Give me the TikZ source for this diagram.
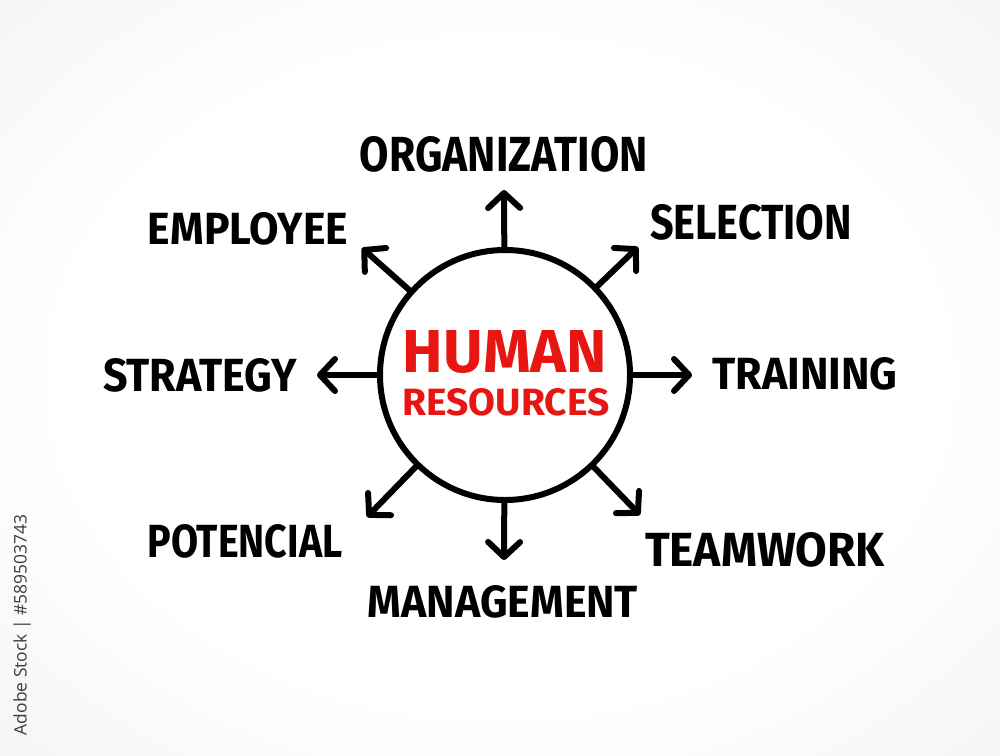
\documentclass[tikz,border=0pt]{standalone}
\usepackage{fontspec}
\usepackage{graphicx}
\usetikzlibrary{arrows.meta}
\newfontfamily\handfont{Fira Sans}
\newfontfamily\wmfont{Open Sans}
\definecolor{bggray}{RGB}{218,218,218}
\definecolor{hrred}{RGB}{232,22,18}
\definecolor{wmgray}{RGB}{60,60,60}
\pgfdeclareradialshading{bgshade}{\pgfpoint{0bp}{0bp}}{color(0bp)=(white); color(22bp)=(white); color(72bp)=(bggray)}
\newcommand{\lbl}[3]{\resizebox{#1pt}{#2pt}{\handfont\bfseries #3}}
\begin{document}
\begin{tikzpicture}[x=1pt,y=-1pt,
  lab/.style={inner sep=0pt, outer sep=0pt, text=black},
  redlab/.style={inner sep=0pt, outer sep=0pt, text=hrred},
  arr/.style={line width=6pt, line cap=round,
    -{Straight Barb[length=15pt,width=32pt,line cap=round,line join=round]}},
  hub/.style={circle, draw=black, line width=6pt, minimum size=250pt, inner sep=0pt}]
\useasboundingbox (0,0) rectangle (1000,755);
\shade[shading=bgshade] (0,0) rectangle (1000,755);

% hub
\node[hub] (hr) at (505,375) {};
\node[redlab] (hrtop) at (505,352) {\lbl{204}{42}{HUMAN}};
\node[redlab] (hrbot) at (506,402) {\lbl{207}{27}{RESOURCES}};

% labels
\node[lab] (org) at (504,154) {\lbl{288}{35}{ORGANIZATION}};
\node[lab] (sel) at (751,222) {\lbl{202}{35}{SELECTION}};
\node[lab] (tra) at (805,374) {\lbl{185}{32}{TRAINING}};
\node[lab] (tea) at (765,550) {\lbl{240}{34}{TEAMWORK}};
\node[lab] (man) at (503,602) {\lbl{270}{32}{MANAGEMENT}};
\node[lab] (pot) at (245,541) {\lbl{195}{33}{POTENCIAL}};
\node[lab] (str) at (200,375) {\lbl{194}{33}{STRATEGY}};
\node[lab] (emp) at (248,229) {\lbl{200}{32}{EMPLOYEE}};

% arrow tips
\coordinate (tOrg) at (504,190);
\coordinate (tSel) at (638,247);
\coordinate (tTra) at (692,375);
\coordinate (tTea) at (640,515);
\coordinate (tMan) at (504,560);
\coordinate (tPot) at (367,517);
\coordinate (tStr) at (317,375);
\coordinate (tEmp) at (362,248);

\draw[arr] (hr) -- (tOrg);
\draw[arr] (hr) -- (tSel);
\draw[arr] (hr) -- (tTra);
\draw[arr] (hr) -- (tTea);
\draw[arr] (hr) -- (tMan);
\draw[arr] (hr) -- (tPot);
\draw[arr] (hr) -- (tStr);
\draw[arr] (hr) -- (tEmp);

% stock caption
\node[rotate=90, inner sep=0pt, text=wmgray] (wm) at (22,625)
  {\resizebox{220pt}{!}{\wmfont Adobe Stock | \#589503743}};
\end{tikzpicture}
\end{document}
